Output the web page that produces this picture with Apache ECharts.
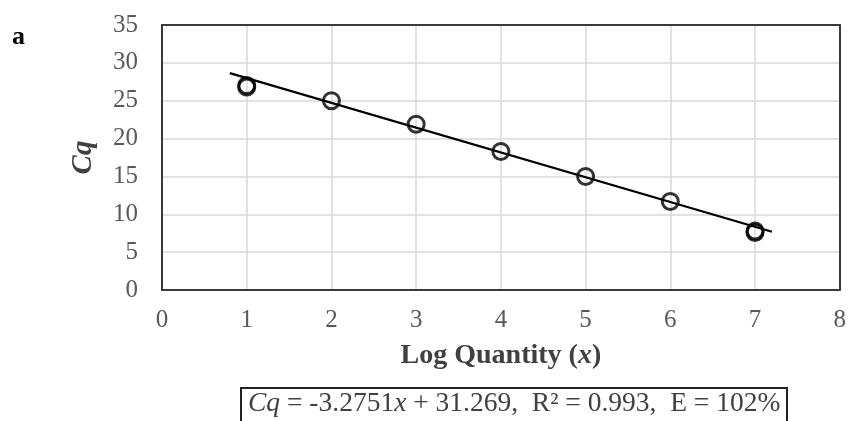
<!DOCTYPE html>
<html>
<head>
<meta charset="utf-8">
<script src="https://cdn.jsdelivr.net/npm/echarts@6/dist/echarts.min.js"></script>
<style>html,body{margin:0;padding:0;background:#fff;}#chart{width:849px;height:421px;}</style>
</head>
<body>
<div id="chart"></div>
<script>
var logQuantity = [1, 1, 2, 3, 4, 5, 6, 7, 7];
var cqValues = [27.0, 26.8, 25.0, 21.9, 18.3, 15.0, 11.7, 7.8, 7.6];
var trendX = [0.8, 7.2];
var trendY = [28.65, 7.69];
var xTicks = [0, 1, 2, 3, 4, 5, 6, 7, 8];
var yTicks = [0, 5, 10, 15, 20, 25, 30, 35];

var serif = '"Liberation Serif", "Times New Roman", serif';
var frame = { show: true, onZero: false, lineStyle: { color: '#3a3a3a', width: 2 } };
var chart = echarts.init(document.getElementById('chart'));
chart.setOption({
  animation: false,
  backgroundColor: '#fff',
  grid: { left: 162, right: 6, top: 25, bottom: 131 },
  xAxis: [{
    type: 'value', min: 0, max: 8, interval: 1,
    name: 'Log Quantity ({i|x})',
    nameLocation: 'middle', nameGap: 52,
    nameTextStyle: { fontFamily: serif, fontSize: 28, fontWeight: 'bold', color: '#404040',
      rich: { i: { fontFamily: serif, fontSize: 28, fontWeight: 'bold', fontStyle: 'italic', color: '#404040' } } },
    axisLine: frame,
    axisTick: { show: false },
    axisLabel: { fontFamily: serif, fontSize: 25, color: '#595959', margin: 18,
      formatter: function (v) { return xTicks.indexOf(v) >= 0 ? String(v) : ''; } },
    splitLine: { show: true, lineStyle: { color: '#d9d9d9', width: 1.5 } },
    z: 5
  }, {
    type: 'value', min: 0, max: 8, position: 'top',
    axisLine: frame, axisTick: { show: false }, axisLabel: { show: false }, splitLine: { show: false },
    z: 10
  }],
  yAxis: [{
    type: 'value', min: 0, max: 35, interval: 5,
    name: 'Cq',
    nameLocation: 'middle', nameGap: 64,
    nameTextStyle: { fontFamily: serif, fontSize: 29, fontWeight: 'bold', fontStyle: 'italic', color: '#404040' },
    axisLine: frame,
    axisTick: { show: false },
    axisLabel: { fontFamily: serif, fontSize: 25, color: '#595959', margin: 24,
      formatter: function (v) { return yTicks.indexOf(v) >= 0 ? String(v) : ''; } },
    splitLine: { show: true, lineStyle: { color: '#d9d9d9', width: 1.5 } },
    z: 5
  }, {
    type: 'value', min: 0, max: 35, position: 'right',
    axisLine: frame, axisTick: { show: false }, axisLabel: { show: false }, splitLine: { show: false },
    z: 10
  }],
  series: [
    {
      type: 'line',
      data: trendX.map(function (x, i) { return [x, trendY[i]]; }),
      symbol: 'none',
      lineStyle: { color: '#000', width: 2.2 },
      z: 12
    },
    {
      type: 'scatter',
      data: logQuantity.map(function (x, i) { return [x, cqValues[i]]; }),
      symbol: 'circle',
      symbolSize: 16,
      itemStyle: { color: 'rgba(255,255,255,0)', borderColor: '#000', borderWidth: 3 },
      z: 13
    }
  ],
  graphic: [
    { type: 'text', left: 12, top: 24,
      style: { text: 'a', fontFamily: serif, fontSize: 26, fontWeight: 'bold', fill: '#000' } },
    { type: 'rect', shape: { x: 241, y: 388, width: 546, height: 50 },
      style: { fill: '#fff', stroke: '#222', lineWidth: 2 } },
    { type: 'text', left: 248, top: 390,
      style: {
        text: '{i|Cq} = -3.2751{i|x} + 31.269,  R² = 0.993,  E = 102%',
        fontFamily: serif, fontSize: 27.5, fill: '#404040',
        rich: { i: { fontFamily: serif, fontSize: 27.5, fontStyle: 'italic', fill: '#404040' } }
      } }
  ]
});
</script>
</body>
</html>
